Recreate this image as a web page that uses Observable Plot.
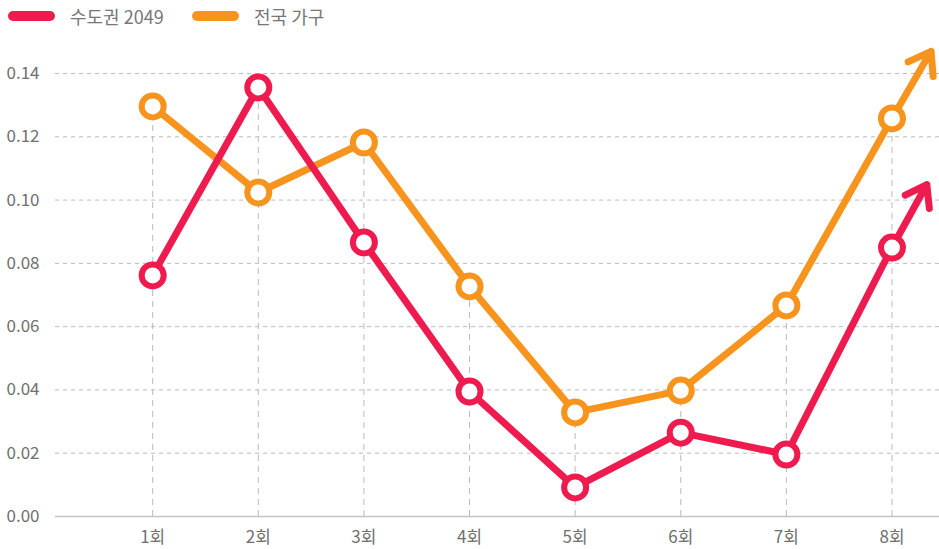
<!DOCTYPE html>
<html><head><meta charset="utf-8">
<script src="https://cdn.jsdelivr.net/npm/d3@7"></script>
<script src="https://cdn.jsdelivr.net/npm/@observablehq/plot@0.6"></script>
<style>
body{margin:0;background:#fff;font-family:"Noto Sans CJK KR","Noto Sans",sans-serif;}
#legend{height:32px;position:relative;}
.item{position:absolute;top:0;height:32px;display:flex;align-items:center;color:#777;font-size:18px;}
.sw{display:inline-block;width:47px;height:10px;border-radius:5px;margin-right:15px;}
</style></head>
<body>
<div id="legend"></div>
<div id="chart"></div>
<script>
const rounds = [1,2,3,4,5,6,7,8];
const roundLabels = ["1회","2회","3회","4회","5회","6회","7회","8회"];
const seriesNames = ["수도권 2049","전국 가구"];
const colors = ["#EE1B4F","#F7941D"];
const capital = [0.0762,0.1356,0.0866,0.0395,0.0092,0.0265,0.0196,0.0850];
const national = [0.1296,0.1024,0.1182,0.0727,0.0329,0.0398,0.0667,0.1258];
const arrowTipX = [8.33,8.37];
const arrowTipY = [0.1049,0.1470];
const yTicks = [0,0.02,0.04,0.06,0.08,0.10,0.12,0.14];

const legend = document.getElementById("legend");
const legendX = [8,192];
seriesNames.forEach((n,i)=>{
  const d=document.createElement("div");d.className="item";d.style.left=legendX[i]+"px";
  d.innerHTML=`<span class="sw" style="background:${colors[i]}"></span>${n}`;
  legend.appendChild(d);
});

const series = [capital, national];
const pts = [];
series.forEach((vals,s)=>vals.forEach((v,i)=>pts.push({s, x:rounds[i], y:v})));
const maxes = rounds.map((r,i)=>({x:r, y:Math.max(capital[i],national[i])}));
const arrows = series.map((vals,s)=>({s, x1:rounds[7], y1:vals[7], x2:arrowTipX[s], y2:arrowTipY[s]}));

const marks = [
  Plot.gridY(yTicks.filter(t=>t>0),{stroke:"#bbb",strokeOpacity:1,strokeDasharray:"4,4"}),
  Plot.ruleX(maxes,{x:"x",y1:0,y2:"y",stroke:"#bbb",strokeDasharray:"6,5"}),
  Plot.ruleY([0],{stroke:"#c4c4c4",strokeWidth:1.5}),
  Plot.axisY({ticks:yTicks,tickFormat:d3.format(".2f"),tickSize:0,tickPadding:16,fontSize:17,fill:"#707070"}),
  Plot.axisX({ticks:rounds,tickFormat:(d)=>roundLabels[rounds.indexOf(d)],tickSize:0,tickPadding:14,fontSize:17,fill:"#707070"})
];
[1,0].forEach(s=>{
  const data = pts.filter(p=>p.s===s);
  marks.push(Plot.line(data,{x:"x",y:"y",stroke:colors[s],strokeWidth:7,strokeLinejoin:"round"}));
  marks.push(Plot.arrow([arrows[s]],{x1:"x1",y1:"y1",x2:"x2",y2:"y2",stroke:colors[s],strokeWidth:7,headLength:5.4,headAngle:70,strokeLinecap:"round",strokeLinejoin:"round"}));
  marks.push(Plot.dot(data,{x:"x",y:"y",r:11,fill:"#fff",stroke:colors[s],strokeWidth:6}));
});

const chart = Plot.plot({
  width:939, height:517,
  marginLeft:55, marginRight:0, marginTop:41, marginBottom:33,
  x:{type:"linear",domain:[0.08,8.45]},
  y:{domain:[0,0.14]},
  style:{fontFamily:"'Noto Sans CJK KR','Noto Sans',sans-serif",background:"#fff"},
  marks
});
document.getElementById("chart").appendChild(chart);
</script>
</body></html>
